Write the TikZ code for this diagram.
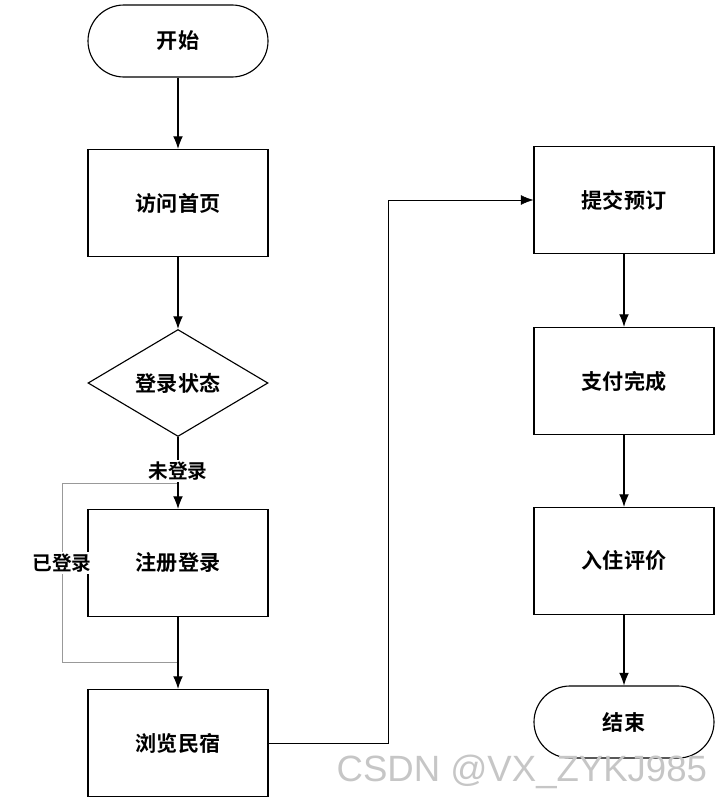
\documentclass[tikz,border=0pt]{standalone}
\usepackage{fontspec}
\newfontfamily\cjk{Noto Sans CJK SC}[BoldFont={Noto Sans CJK SC Bold}]
\usetikzlibrary{arrows.meta,shapes.geometric}

\tikzset{
  box/.style={draw,thick,minimum width=180*0.025cm,minimum height=107*0.025cm,font=\cjk\bfseries\fontsize{15}{18}\selectfont},
  term/.style={draw,thick,rounded corners=18*0.025cm*2,minimum width=180*0.025cm,minimum height=72*0.025cm,font=\cjk\bfseries\fontsize{15}{18}\selectfont},
  decide/.style={draw,thick,diamond,aspect=1.68,inner sep=0pt,minimum width=180*0.025cm,minimum height=107*0.025cm,font=\cjk\bfseries\fontsize{15}{18}\selectfont},
  flow/.style={-{Latex[length=9pt,width=7pt]},thick},
  loopline/.style={draw=gray!80,semithick},
  lbl/.style={fill=white,inner sep=1pt,font=\cjk\bfseries\fontsize{14}{16}\selectfont}
}

\begin{document}
\begin{tikzpicture}[x=0.025cm,y=-0.025cm]
  \useasboundingbox (0,0) rectangle (718,802);

  % left column
  \node[term]   (start)  at (178,41)  {开始};
  \node[box]    (home)   at (178,203) {访问首页};
  \node[decide] (login)  at (178,383) {登录状态};
  \node[box]    (reg)    at (178,563) {注册登录};
  \node[box]    (browse) at (178,743) {浏览民宿};

  % right column
  \node[box]  (order) at (624,200) {提交预订};
  \node[box]  (pay)   at (624,381) {支付完成};
  \node[box]  (stay)  at (624,561) {入住评价};
  \node[term] (stop)  at (624,722) {结束};

  % connectors
  \draw[flow] (start) -- (home);
  \draw[flow] (home) -- (login);
  \coordinate (split) at (178,483);
  \coordinate (join) at (178,662);
  \draw[loopline] (split) -- (62,483) -- (62,662) -- (join);
  \draw[flow] (login) -- (reg);
  \node[lbl] at (178,471) {未登录};
  \node[lbl] at (62,563) {已登录};
  \draw[flow] (reg) -- (browse);
  \draw[flow,draw=black,thin] (browse.east) -- (388,743) -- (388,200) -- (order.west);
  \draw[flow] (order) -- (pay);
  \draw[flow] (pay) -- (stay);
  \draw[flow] (stay) -- (stop);

  % watermark
  \node[text=gray!45,font=\fontspec{Liberation Sans}\fontsize{26}{30}\selectfont,anchor=east] (mark) at (712,772) {CSDN @VX\_ZYKJ985};
\end{tikzpicture}
\end{document}
